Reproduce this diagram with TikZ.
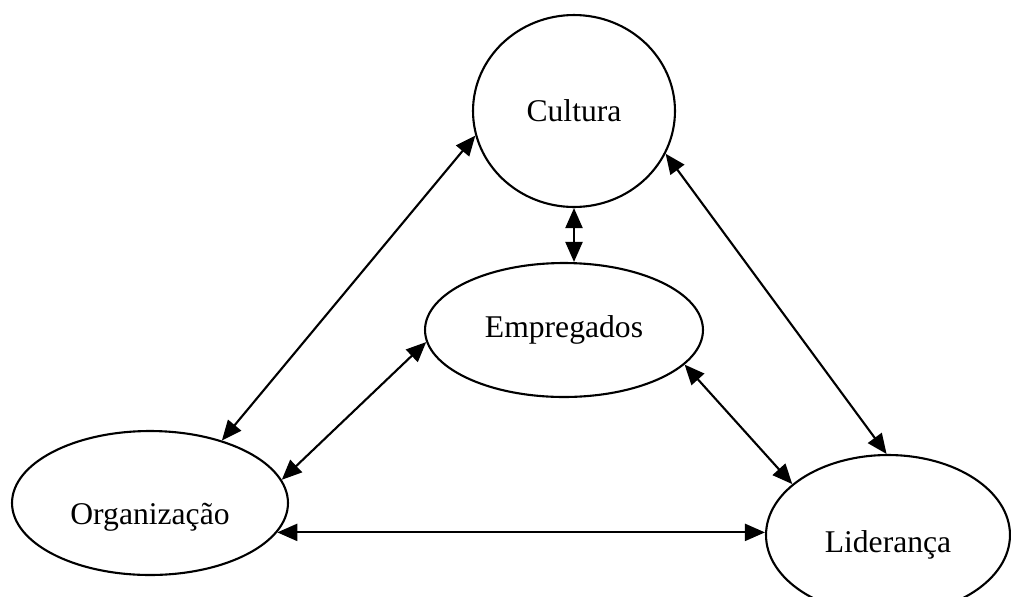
\documentclass[tikz,border=0pt]{standalone}
\usepackage{fontspec}
\setmainfont{Liberation Serif}
\usetikzlibrary{shapes,arrows.meta}
\tikzstyle{bubble} = [ellipse, draw=black, line width=1.2pt, text centered, font=\fontsize{18}{22}\selectfont, inner sep=0pt]
\tikzstyle{arrow} = [line width=1.2pt, {Triangle[length=0.4cm,width=0.34cm]}-{Triangle[length=0.4cm,width=0.34cm]}]

\begin{document}
\begin{tikzpicture}[x=0.02cm, y=-0.02cm]
\useasboundingbox (0,0) rectangle (1011,596);
\node (cul) [bubble, minimum width=4.04cm, minimum height=3.84cm] at (574,111) {Cultura};
\node (emp) [bubble, minimum width=5.56cm, minimum height=2.68cm] at (564,330) {Empregados};
\node (org) [bubble, minimum width=5.52cm, minimum height=2.88cm, text height=1cm, text depth=0.14cm] at (150,503) {Organização};
\node (lid) [bubble, minimum width=4.88cm, minimum height=3.2cm, text height=0.82cm, text depth=0.14cm] at (888,535) {Liderança};

\draw [arrow] (cul.194) -- (org.41);
\draw [arrow] (cul.south) -- (cul.south |- emp.north);
\draw [arrow] (cul.335) -- (lid.91);
\draw [arrow] (emp.185) -- (org.10);
\draw [arrow] (emp.344) -- (lid.152);
\draw [arrow] (org.-13) -- (org.-13 -| lid.west);
\end{tikzpicture}
\end{document}
